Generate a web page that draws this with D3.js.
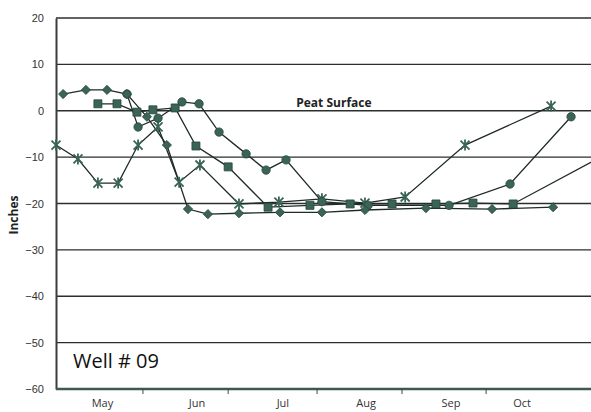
<!DOCTYPE html>
<html>
<head>
<meta charset="utf-8">
<script src="https://cdn.jsdelivr.net/npm/d3@7"></script>
<style>
  body { margin: 0; background: #fff; }
  svg { display: block; font-family: "Open Sans", "Noto Sans", sans-serif; }
</style>
</head>
<body>
<svg id="drawing_region"></svg>
<script>
// days counted from the left edge of the plot (early April)
const y_ticks = [20, 10, 0, -10, -20, -30, -40, -50, -60];
const month_labels = ['May', 'Jun', 'Jul', 'Aug', 'Sep', 'Oct'];
const month_label_days = [16.3, 49.5, 79.6, 108.8, 138.6, 163.5];
const month_tick_days = [30.5, 60.4, 91.6, 121.4, 150.9];

// [day, inches]
const diamond_series = [
    [2.5, 3.6], [10.5, 4.5], [17.9, 4.5], [24.9, 3.6], [31.9, -1.3], [38.9, -7.4],
    [46.3, -21.2], [53.3, -22.3], [64.2, -22.1], [78.6, -21.9], [93.3, -21.9],
    [108.4, -21.4], [129.8, -21.0], [153.0, -21.2], [174.4, -20.8]
];
const circle_series = [
    [24.9, 3.6], [28.8, -3.5], [35.8, -1.6], [44.2, 1.9], [50.2, 1.5], [57.2, -4.6],
    [66.7, -9.3], [73.7, -12.8], [80.7, -10.6], [93.3, -19.6], [109.5, -20.4],
    [137.9, -20.4], [159.3, -15.8], [180.7, -1.3]
];
const star_series = [
    [0, -7.4], [7.7, -10.4], [14.7, -15.6], [21.8, -15.6], [28.8, -7.4], [35.8, -3.5],
    [43.2, -15.4], [50.5, -11.7], [64.2, -20.1], [78.2, -19.7], [93.3, -19.0],
    [108.4, -19.9], [122.5, -18.6], [143.5, -7.4], [173.7, 1.0]
];
const square_series = [
    [14.7, 1.5], [21.4, 1.5], [28.4, -0.3], [34.0, 0.2], [41.8, 0.6], [49.1, -7.6],
    [60.4, -12.1], [74.4, -20.8], [89.1, -20.4], [103.2, -20.1], [117.9, -20.1],
    [133.3, -20.1], [146.3, -19.9], [160.4, -20.1], [189.5, -10.5]
];

const config = {
    width: 591,
    height: 412,
    margin: {top: 18, right: 0, bottom: 23, left: 56}
};

const svg = d3.select('#drawing_region')
    .attr('width', config.width)
    .attr('height', config.height);

const inner_width = config.width - config.margin.left - config.margin.right;
const inner_height = config.height - config.margin.top - config.margin.bottom;

const chart = svg.append('g')
    .attr('transform', `translate(${config.margin.left}, ${config.margin.top})`);

const xscale = d3.scaleLinear().domain([0, 187.7]).range([0, inner_width]);
const yscale = d3.scaleLinear().domain([-60, 20]).range([inner_height, 0]);

const line_col = '#1e2b26';
const mark_col = '#3a6456';

svg.append('defs').append('clipPath').attr('id', 'plot_clip')
    .append('rect').attr('x', -8).attr('width', inner_width + 8).attr('height', inner_height);

// gridlines
chart.append('g').selectAll('line')
    .data(y_ticks.filter(d => d > -60))
    .enter().append('line')
    .attr('x1', 0).attr('x2', inner_width)
    .attr('y1', d => yscale(d)).attr('y2', d => yscale(d))
    .attr('stroke', '#2a2f2d').attr('stroke-width', 1.3);

// y axis
const yaxis = d3.axisLeft(yscale).tickValues(y_ticks).tickSize(0).tickPadding(12);
chart.append('g').call(yaxis)
    .call(g => g.select('.domain').attr('stroke', '#3a3f3c').attr('stroke-width', 2))
    .call(g => g.selectAll('text').attr('font-size', 11).attr('fill', '#333'));

// x axis
chart.append('line')
    .attr('x1', 0).attr('x2', inner_width)
    .attr('y1', inner_height).attr('y2', inner_height)
    .attr('stroke', '#3c5a4f').attr('stroke-width', 2.5);

chart.append('g').selectAll('line')
    .data(month_tick_days)
    .enter().append('line')
    .attr('x1', d => xscale(d)).attr('x2', d => xscale(d))
    .attr('y1', inner_height).attr('y2', inner_height + 5)
    .attr('stroke', '#444').attr('stroke-width', 1);

chart.append('g').selectAll('text')
    .data(month_labels)
    .enter().append('text')
    .attr('x', (d, i) => xscale(month_label_days[i]))
    .attr('y', inner_height + 18)
    .attr('text-anchor', 'middle')
    .attr('font-size', 11).attr('fill', '#333')
    .text(d => d);

svg.append('text')
    .attr('transform', 'translate(18, 215) rotate(-90)')
    .attr('text-anchor', 'middle')
    .attr('font-size', 12).attr('font-weight', 'bold').attr('fill', '#222')
    .text('Inches');

chart.append('text')
    .attr('x', xscale(97.5)).attr('y', yscale(0) - 4)
    .attr('text-anchor', 'middle')
    .attr('font-size', 12).attr('font-weight', 'bold').attr('fill', '#222')
    .text('Peat Surface');

chart.append('text')
    .attr('x', 17).attr('y', yscale(-55.5))
    .attr('font-size', 20).attr('fill', '#111')
    .text('Well # 09');

// series
const line = d3.line().x(d => xscale(d[0])).y(d => yscale(d[1]));
const plot = chart.append('g').attr('clip-path', 'url(#plot_clip)');

const all_series = [
    {data: star_series, shape: 'star'},
    {data: circle_series, shape: 'circle'},
    {data: square_series, shape: 'square'},
    {data: diamond_series, shape: 'diamond'}
];

all_series.forEach(s => {
    plot.append('path')
        .datum(s.data)
        .attr('d', line)
        .attr('fill', 'none')
        .attr('stroke', line_col)
        .attr('stroke-width', 1.3);
});

// excel style star: an X with a vertical stroke
const star_path = 'M-4.5,-4.5L4.5,4.5M-4.5,4.5L4.5,-4.5M0,-5.5L0,5.5';

const symbols = {
    circle: d3.symbol().type(d3.symbolCircle).size(55),
    square: d3.symbol().type(d3.symbolSquare).size(64),
    diamond: d3.symbol().type(d3.symbolSquare).size(42)
};

all_series.forEach(s => {
    const g = plot.append('g');
    const marks = g.selectAll('path')
        .data(s.data)
        .enter().append('path')
        .attr('transform', d => `translate(${xscale(d[0])}, ${yscale(d[1])})` +
            (s.shape == 'diamond' ? ' rotate(45)' : ''));
    if (s.shape == 'star') {
        marks.attr('d', star_path)
            .attr('fill', 'none')
            .attr('stroke', mark_col)
            .attr('stroke-width', 1.8);
    } else {
        marks.attr('d', symbols[s.shape])
            .attr('fill', mark_col)
            .attr('stroke', '#2a453c')
            .attr('stroke-width', 0.8);
    }
});
</script>
</body>
</html>
